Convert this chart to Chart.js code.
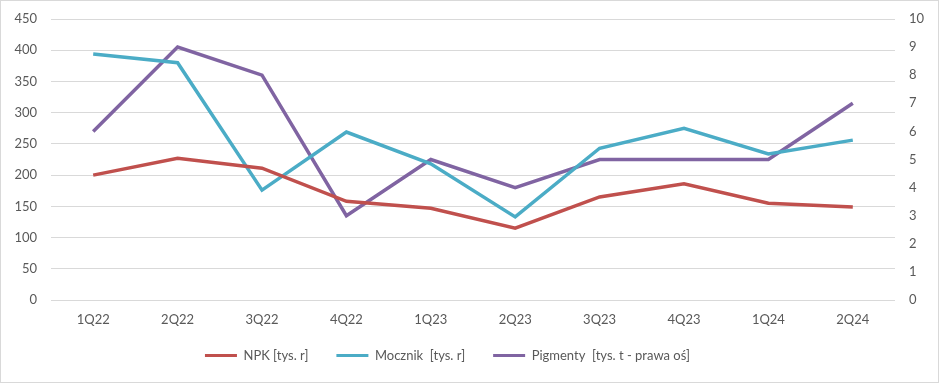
<!DOCTYPE html>
<html>
<head>
<meta charset="utf-8">
<script src="https://cdn.jsdelivr.net/npm/chart.js@4"></script>
<style>
html,body{margin:0;padding:0;background:#fff;}
#wrap{position:absolute;left:0;top:0;width:939px;height:383px;box-sizing:border-box;border:1px solid #D9D9D9;background:#fff;}
canvas{display:block;}
</style>
</head>
<body>
<div id="wrap"><canvas id="c" width="937" height="381"></canvas></div>
<script>
const categories = ['1Q22','2Q22','3Q22','4Q22','1Q23','2Q23','3Q23','4Q23','1Q24','2Q24'];
const npk = [200, 227, 211, 158, 147, 115, 165, 186, 155, 149];
const mocznik = [394, 380, 176, 269, 218, 133, 243, 275, 234, 256];
const pigmenty = [6, 9, 8, 3, 5, 4, 5, 5, 5, 7];
const seriesLabels = ['NPK [tys. r]', 'Mocznik  [tys. r]', 'Pigmenty  [tys. t - prawa oś]'];

const FONT = 'Lato, "Open Sans", "Liberation Sans", sans-serif';
const shiftLegend = {
  id: 'shiftLegend',
  afterLayout(chart) {
    const l = chart.legend;
    if (l) { l.left -= 22; l.right -= 22; l.top -= 10; l.bottom -= 10; }
  }
};
new Chart(document.getElementById('c'), {
  type: 'line',
  data: {
    labels: categories,
    datasets: [
      {label: seriesLabels[0], data: npk, borderColor: '#C0504D', backgroundColor: '#C0504D', yAxisID: 'y', borderWidth: 3.5, pointRadius: 0, tension: 0},
      {label: seriesLabels[1], data: mocznik, borderColor: '#4BACC6', backgroundColor: '#4BACC6', yAxisID: 'y', borderWidth: 3.5, pointRadius: 0, tension: 0},
      {label: seriesLabels[2], data: pigmenty, borderColor: '#8064A2', backgroundColor: '#8064A2', yAxisID: 'y1', borderWidth: 3.5, pointRadius: 0, tension: 0}
    ]
  },
  plugins: [shiftLegend],
  options: {
    responsive: false,
    animation: false,
    layout: {padding: {top: 18, bottom: 0, left: 0, right: 0}},
    plugins: {
      tooltip: {enabled: false},
      legend: {
        position: 'bottom',
        labels: {
          boxWidth: 32, boxHeight: 3, color: '#595959', padding: 28,
          font: {family: FONT, size: 13},
          generateLabels(chart) {
            const items = Chart.defaults.plugins.legend.labels.generateLabels(chart);
            items.forEach(i => { i.lineWidth = 0; i.strokeStyle = 'rgba(0,0,0,0)'; });
            return items;
          }
        }
      }
    },
    scales: {
      x: {
        offset: true,
        grid: {display: false, drawTicks: false},
        border: {display: false},
        ticks: {color: '#595959', padding: 12, font: {family: FONT, size: 13}, maxRotation: 0},
        afterFit: s => { s.height = 31; s.paddingLeft = 0; s.paddingRight = 0; }
      },
      y: {
        position: 'left', min: 0, max: 450,
        ticks: {stepSize: 50, color: '#595959', padding: 14, font: {family: FONT, size: 13}},
        grid: {color: '#D9D9D9', drawTicks: false, lineWidth: 1},
        border: {display: false},
        afterFit: s => { s.width = 50; s.paddingTop = 0; s.paddingBottom = 0; }
      },
      y1: {
        position: 'right', min: 0, max: 10,
        ticks: {stepSize: 1, color: '#595959', padding: 14, font: {family: FONT, size: 13}},
        grid: {display: false, drawTicks: false},
        border: {display: false},
        afterFit: s => { s.width = 43; s.paddingTop = 0; s.paddingBottom = 0; }
      }
    }
  }
});
</script>
</body>
</html>
